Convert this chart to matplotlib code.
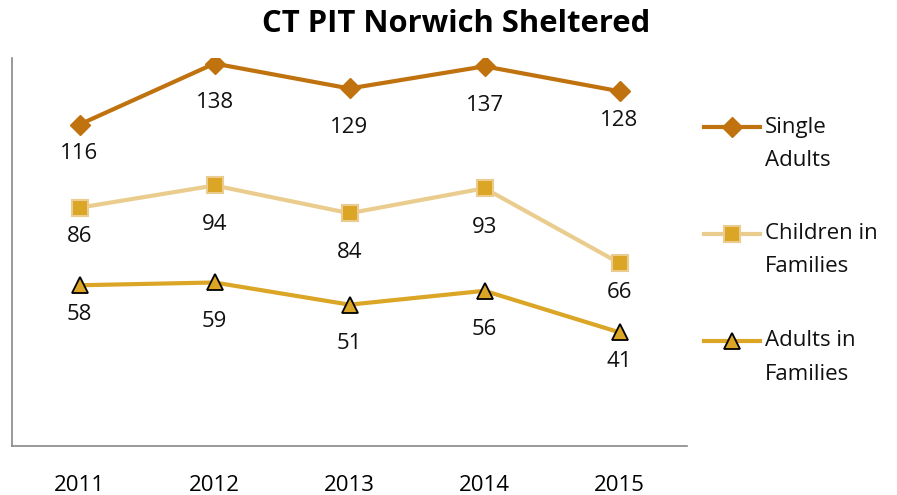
import numpy as np
import matplotlib.pyplot as plt
from matplotlib.lines import Line2D

years = ['2011', '2012', '2013', '2014', '2015']
single_adults = [116, 138, 129, 137, 128]
children_fam = [86, 94, 84, 93, 66]
adults_fam = [58, 59, 51, 56, 41]
labels = ['Single\nAdults', 'Children in\nFamilies', 'Adults in\nFamilies']

plt.rcParams['font.family'] = ['Open Sans', 'DejaVu Sans']

W, H = 897, 495
fig = plt.figure(figsize=(W / 100, H / 100), dpi=100)
ax = fig.add_axes([12/W, 49/H, 675/W, 388/H])

x = np.arange(len(years))
c_single = '#C0720F'
c_child_line = '#EACD8E'
c_gold = '#DBA526'

styles = [
    dict(color=c_single, marker='D', ms=10, mfc=c_single, mec=c_single, mew=1),
    dict(color=c_child_line, marker='s', ms=12, mfc=c_gold, mec=c_child_line, mew=1.5),
    dict(color=c_gold, marker='^', ms=12, mfc=c_gold, mec='black', mew=1.3),
]

for series, st in zip((single_adults, children_fam, adults_fam), styles):
    ax.plot(x, series, lw=3, zorder=3, **st)
    # data labels under the points
    for i, v in enumerate(series):
        off = 21 if i in (0, 4) else 28
        ax.annotate(str(v), (x[i], v), xytext=(0, -off), textcoords='offset points',
                    ha='center', va='center', fontsize=16, color='#111111')

ax.set_xlim(-0.5, 4.5)
ax.set_ylim(0, 140)
ax.set_xticks(x)
ax.set_xticklabels(years, fontsize=16)
ax.tick_params(axis='x', length=0, pad=21)
ax.set_yticks([])
for s in ('top', 'right'):
    ax.spines[s].set_visible(False)
for s in ('left', 'bottom'):
    ax.spines[s].set_color('#888888')
    ax.spines[s].set_linewidth(1.2)

fig.text(456/W, 1 - 24/H, 'CT PIT Norwich Sheltered', ha='center', va='center',
         fontsize=22.3, fontweight='bold')

# legend drawn by hand, Excel style
for k, (lab, st) in enumerate(zip(labels, styles)):
    yl = 1 - (127 + 107 * k) / H
    fig.add_artist(Line2D([704/W, 760/W], [yl, yl], lw=3, color=st['color'],
                          transform=fig.transFigure))
    fig.add_artist(Line2D([732/W], [yl], lw=0, transform=fig.transFigure,
                          **{kk: vv for kk, vv in st.items() if kk != 'color'}))
    for j, part in enumerate(lab.split('\n')):
        fig.text(765/W, yl - 33 * j / H, part, ha='left', va='center',
                 fontsize=16, color='#111111')

fig.savefig('out.png', dpi=100)
